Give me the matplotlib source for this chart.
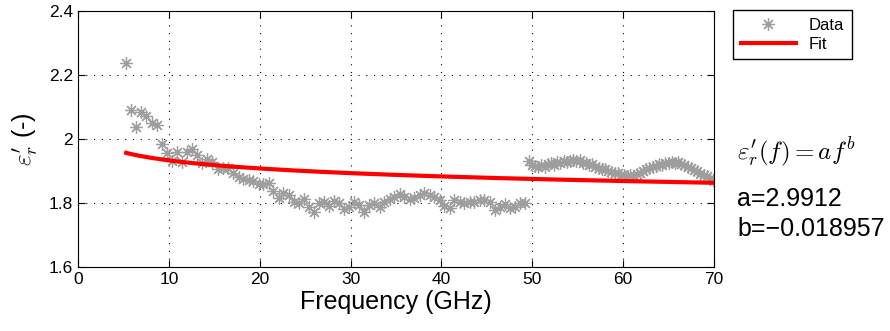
import matplotlib
matplotlib.use("Agg")
import matplotlib.pyplot as plt
import numpy as np

plt.rcParams['font.family'] = ['Liberation Sans', 'DejaVu Sans']
plt.rcParams['mathtext.fontset'] = 'cm'

# measured data (GHz, eps_r')
freq_low = [5.3, 5.8, 6.4, 6.9, 7.5, 8.1, 8.7, 9.2, 9.8, 10.4, 10.9, 11.4, 12.0, 12.6,
            13.1, 13.7, 14.2, 14.8, 15.4, 16.0, 16.5, 17.1, 17.7, 18.2, 18.8, 19.3,
            19.9, 20.4, 21.0, 21.5, 22.1, 22.6, 23.2, 23.8, 24.3, 24.9, 25.4, 26.0,
            26.5, 27.1, 27.6, 28.2, 28.7, 29.3, 29.8, 30.4, 30.9, 31.5, 32.0, 32.6,
            33.2, 33.7, 34.3, 34.8, 35.4, 35.9, 36.5, 37.0, 37.6, 38.1, 38.7, 39.2,
            39.8, 40.3, 40.9, 41.4, 42.0, 42.5, 43.1, 43.6, 44.2, 44.7, 45.3, 45.9,
            46.4, 47.0, 47.5, 48.1, 48.6, 49.2]
eps_low = [2.237, 2.090, 2.038, 2.085, 2.072, 2.049, 2.044, 1.984, 1.957, 1.932, 1.960,
           1.929, 1.960, 1.970, 1.950, 1.926, 1.936, 1.929, 1.905, 1.908, 1.908, 1.895,
           1.882, 1.876, 1.872, 1.870, 1.860, 1.858, 1.861, 1.838, 1.815, 1.832, 1.825,
           1.804, 1.799, 1.811, 1.788, 1.773, 1.801, 1.804, 1.790, 1.807, 1.801, 1.780,
           1.786, 1.804, 1.794, 1.773, 1.794, 1.799, 1.789, 1.804, 1.812, 1.820, 1.827,
           1.818, 1.812, 1.815, 1.825, 1.830, 1.825, 1.820, 1.809, 1.790, 1.783, 1.809,
           1.804, 1.799, 1.804, 1.804, 1.809, 1.809, 1.804, 1.778, 1.789, 1.797, 1.783,
           1.786, 1.799, 1.799]
freq_high = [49.6, 49.95, 50.3, 50.65, 51.0, 51.35, 51.7, 52.05, 52.4, 52.75, 53.1, 53.45,
             53.8, 54.15, 54.5, 54.85, 55.2, 55.55, 55.9, 56.25, 56.6, 56.95, 57.3, 57.65,
             58.0, 58.35, 58.7, 59.05, 59.4, 59.75, 60.1, 60.45, 60.8, 61.15, 61.5, 61.85,
             62.2, 62.55, 62.9, 63.25, 63.6, 63.95, 64.3, 64.65, 65.0, 65.35, 65.7, 66.05,
             66.4, 66.75, 67.1, 67.45, 67.8, 68.15, 68.5, 68.85, 69.2, 69.55, 69.9]
eps_high = [1.931, 1.920, 1.915, 1.911, 1.918, 1.914, 1.921, 1.924, 1.920, 1.927, 1.925,
            1.930, 1.927, 1.931, 1.934, 1.930, 1.933, 1.926, 1.925, 1.919, 1.921, 1.912,
            1.910, 1.905, 1.906, 1.899, 1.897, 1.894, 1.893, 1.887, 1.888, 1.883, 1.886,
            1.885, 1.892, 1.894, 1.900, 1.905, 1.908, 1.914, 1.915, 1.921, 1.920, 1.926,
            1.924, 1.928, 1.925, 1.927, 1.921, 1.920, 1.914, 1.910, 1.904, 1.899, 1.892,
            1.887, 1.884, 1.876, 1.872]

# fit parameters (f in Hz)
a = 2.9912
b = -0.018957
fit_f = np.linspace(5.3, 70, 200)
fit_eps = a * (fit_f * 1e9) ** b

xticks = [0, 10, 20, 30, 40, 50, 60, 70]
yticks = [1.6, 1.8, 2.0, 2.2, 2.4]
ylabels = ['1.6', '1.8', '2', '2.2', '2.4']

fig = plt.figure(figsize=(8.9, 3.31), dpi=100)
ax = fig.add_axes([78/890, 1 - 267/331, (714-78)/890, (267-11)/331])

gray = (0.62, 0.62, 0.62)
ax.plot(freq_low + freq_high, eps_low + eps_high, linestyle='none', marker=(8, 2, 0),
        markersize=9, markeredgewidth=0.9, color=gray, label='Data')
ax.plot(fit_f, fit_eps, color='red', linewidth=3, label='Fit')

ax.set_xlim(0, 70)
ax.set_ylim(1.6, 2.4)
ax.set_xticks(xticks)
ax.set_yticks(yticks)
ax.set_yticklabels(ylabels)
ax.tick_params(direction='in', top=True, right=True, labelsize=12.5, length=5, width=0.8)
for s in ax.spines.values():
    s.set_linewidth(0.8)
ax.grid(True, linestyle=(0, (1, 6)), color='black', linewidth=0.8)
ax.set_xlabel('Frequency (GHz)', fontsize=18, labelpad=2)
ax.set_ylabel(r"$\varepsilon_r'$ (-)", fontsize=18, labelpad=6)
ax.set_title('Epoxy', fontsize=14, fontweight='bold', pad=10.5)

leg = fig.legend(loc='upper left', bbox_to_anchor=(733/890, 1 - 10/331), borderaxespad=0,
                 fontsize=12, fancybox=False, edgecolor='black', framealpha=1,
                 handlelength=3.3, borderpad=0.45, labelspacing=0.25, handletextpad=0.8)
leg.get_frame().set_linewidth(1.0)

fig.text(737/890, 1 - 152/331, r"$\varepsilon_r'(f) = af^b$", fontsize=18, va='center')
fig.text(737/890, 1 - 199/331, 'a=2.9912', fontsize=18, va='center')
fig.text(737/890, 1 - 229/331, 'b=\u22120.018957', fontsize=18, va='center')

fig.savefig('out.png', dpi=100)
